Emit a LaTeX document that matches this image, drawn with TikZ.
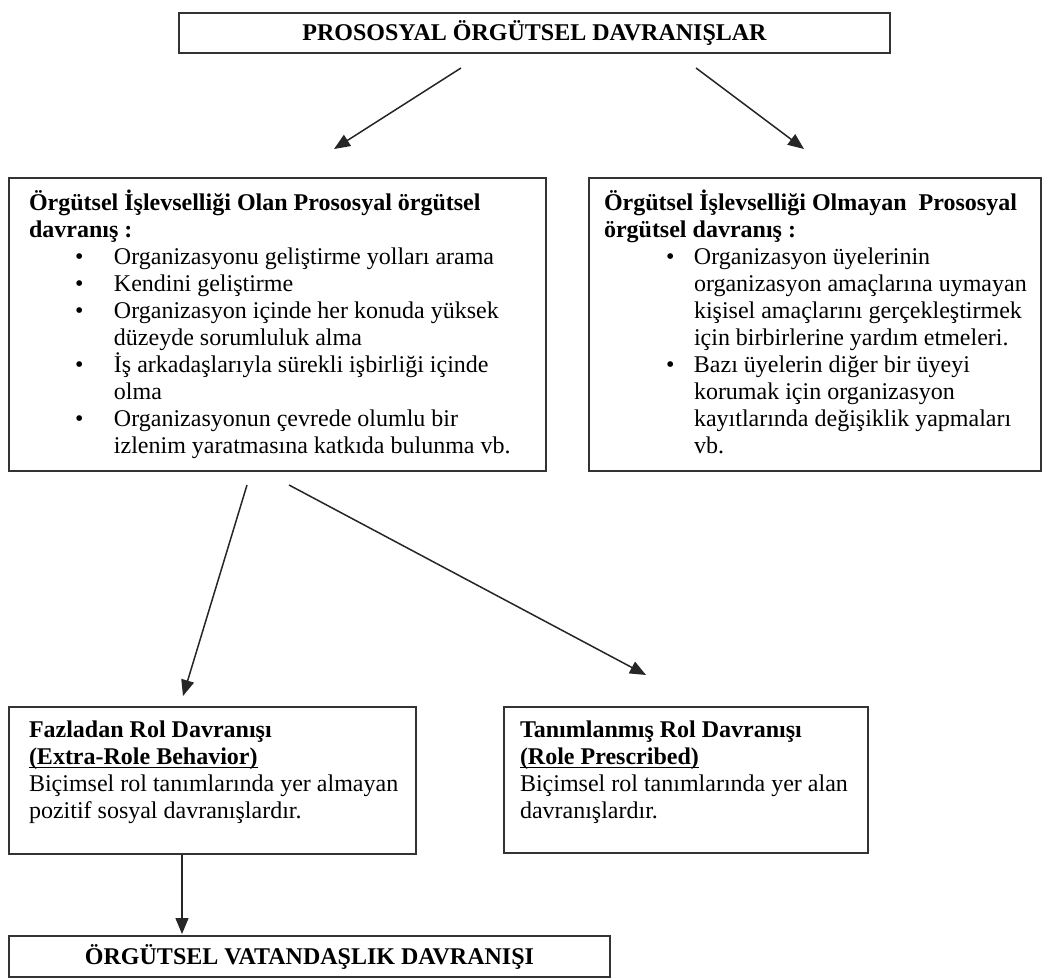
\documentclass[tikz,border=0pt]{standalone}
\usepackage{fontspec}
\setmainfont{Liberation Serif}
\usetikzlibrary{arrows.meta}

\tikzset{
  kutu/.style={draw=black!80, line width=1pt, anchor=north west, inner ysep=0pt},
  ok/.style={-{Triangle[length=8pt,width=6.5pt]}, line width=0.75pt, black!85}
}
% satir = one line, maddeA/B = bullet line, devamA/B = continued line
\newcommand{\satir}[1]{\mbox{#1}}
\newcommand{\maddeA}[1]{\mbox{\hspace*{23pt}\makebox[19.5pt][l]{\textbullet}#1}}
\newcommand{\devamA}[1]{\mbox{\hspace*{42.5pt}#1}}
\newcommand{\maddeB}[1]{\mbox{\hspace*{31pt}\makebox[14pt][l]{\textbullet}#1}}
\newcommand{\devamB}[1]{\mbox{\hspace*{45pt}#1}}
\newcommand{\altcizgi}[1]{\underline{\smash{#1}}}

\begin{document}
\begin{tikzpicture}[x=0.5pt,y=-0.5pt,font=\fontsize{12}{13.5}\selectfont]
		\useasboundingbox (0,0) rectangle (1050,978);

		\node[kutu, inner sep=0pt, minimum width=355.5pt, minimum height=20pt] (prososyal) at (178,12)
			{\bfseries PROSOSYAL ÖRGÜTSEL DAVRANIŞLAR};

		\node[kutu, inner xsep=10pt] (olan) at (8,177) {\parbox[t][146.5pt][t]{248.5pt}{\vspace*{6pt}\strut
			\satir{\bfseries Örgütsel İşlevselliği Olan Prososyal örgütsel}\\
			\satir{\bfseries davranış :}\\
			\maddeA{Organizasyonu geliştirme yolları arama}\\
			\maddeA{Kendini geliştirme}\\
			\maddeA{Organizasyon içinde her konuda yüksek}\\
			\devamA{düzeyde sorumluluk alma}\\
			\maddeA{İş arkadaşlarıyla sürekli işbirliği içinde}\\
			\devamA{olma}\\
			\maddeA{Organizasyonun çevrede olumlu bir}\\
			\devamA{izlenim yaratmasına katkıda bulunma vb.}}};

		\node[kutu, inner xsep=7.5pt] (olmayan) at (588,177) {\parbox[t][146.5pt][t]{211pt}{\vspace*{6pt}\strut
			\satir{\bfseries Örgütsel İşlevselliği Olmayan\ \ Prososyal}\\
			\satir{\bfseries örgütsel davranış :}\\
			\maddeB{Organizasyon üyelerinin}\\
			\devamB{organizasyon amaçlarına uymayan}\\
			\devamB{kişisel amaçlarını gerçekleştirmek}\\
			\devamB{için birbirlerine yardım etmeleri.}\\
			\maddeB{Bazı üyelerin diğer bir üyeyi}\\
			\devamB{korumak için organizasyon}\\
			\devamB{kayıtlarında değişiklik yapmaları}\\
			\devamB{vb.}}};

		\node[kutu, inner xsep=10pt] (fazla) at (8,706) {\parbox[t][73.5pt][t]{183.5pt}{\vspace*{6pt}\strut
			\satir{\bfseries Fazladan Rol Davranışı}\\
			\satir{\bfseries\altcizgi{(Extra-Role Behavior)}}\\
			\satir{Biçimsel rol tanımlarında yer almayan}\\
			\satir{pozitif sosyal davranışlardır.}}};

		\node[kutu, inner xsep=8pt] (tanimli) at (503,706) {\parbox[t][73pt][t]{166pt}{\vspace*{6pt}\strut
			\satir{\bfseries Tanımlanmış Rol Davranışı}\\
			\satir{\bfseries\altcizgi{(Role Prescribed)}}\\
			\satir{Biçimsel rol tanımlarında yer alan}\\
			\satir{davranışlardır.}}};

		\node[kutu, inner sep=0pt, minimum width=300.5pt, minimum height=20.5pt] (vatandas) at (8,935)
			{\bfseries ÖRGÜTSEL VATANDAŞLIK DAVRANIŞI};

		\draw[ok] ([shift={(-73.5,14)}]prososyal.south) -- ([shift={(56.5,-28)}]olan.north);
		\draw[ok] ([shift={(161.5,14)}]prososyal.south) -- ([shift={(-11,-28)}]olmayan.north);

		\draw[ok] ([shift={(-30.5,13)}]olan.south) -- ([shift={(-29.5,-10)}]fazla.north);
		\draw[ok] ([shift={(11.5,13)}]olan.south) -- ([shift={(-40,-31)}]tanimli.north);

		\draw[ok] ([xshift=-15.25pt]fazla.south) -- ([shift={(-127.5,-1)}]vatandas.north);
\end{tikzpicture}
\end{document}
